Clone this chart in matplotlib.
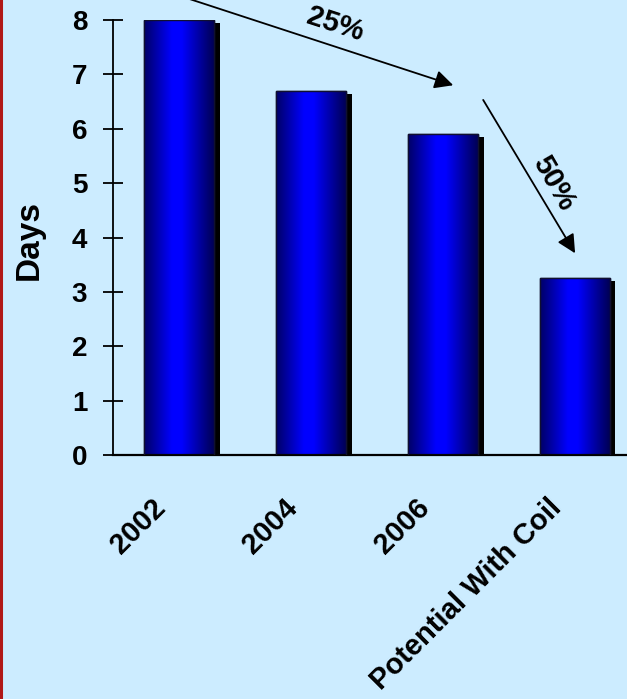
import numpy as np
import matplotlib
matplotlib.use("Agg")
import matplotlib.pyplot as plt
import matplotlib.patheffects as pe
from matplotlib.colors import LinearSegmentedColormap
from matplotlib.transforms import ScaledTranslation
from matplotlib.lines import Line2D

categories = ["2002", "2004", "2006", "Potential With Coil"]
days = [8.0, 6.7, 5.9, 3.25]
yticks = [0, 1, 2, 3, 4, 5, 6, 7, 8]
ylabel = "Days"
arrow_labels = ["25%", "50%"]

BG = "#CCECFF"
plt.rcParams["font.family"] = ["Liberation Sans", "DejaVu Sans"]
plt.rcParams["font.weight"] = "bold"

fig = plt.figure(figsize=(6.27, 6.99), dpi=100, facecolor=BG)
ax = fig.add_axes([113/627, 1 - 455/699, 527.5/627, 435/699])
ax.set_facecolor(BG)

x = np.arange(len(categories))
bars = ax.bar(x, days, width=0.53, color="#0000CC", edgecolor="#101030",
              linewidth=1.0, zorder=2,
              path_effects=[pe.SimplePatchShadow(offset=(4.3, -2.2), shadow_rgbFace="black",
                                                 alpha=1.0), pe.Normal()])

cmap = LinearSegmentedColormap.from_list(
    "bargrad", [(0.0, (0.0, 0.0, 0.40)), (0.40, (0.0, 0.0, 1.0)),
                (0.54, (0.0, 0.0, 1.0)), (1.0, (0.0, 0.0, 0.33))])
grad = np.linspace(0, 1, 256).reshape(1, -1)
for b in bars:
    x0, w, h = b.get_x(), b.get_width(), b.get_height()
    im = ax.imshow(grad, cmap=cmap, aspect="auto", extent=[x0, x0 + w, 0, h],
                   zorder=2.5, interpolation="bilinear")
    im.set_clip_path(b)
    ax.add_patch(plt.Rectangle((x0, 0), w, h, fill=False, edgecolor="#101030",
                               linewidth=1.0, zorder=2.6))

ax.set_xlim(-0.5, 3.5)
ax.set_ylim(0, 8)
ax.set_yticks(yticks)
ax.set_yticklabels([str(t) for t in yticks], fontsize=20, fontweight="bold")
ax.tick_params(axis="y", direction="inout", length=15, width=1.3, pad=11)
ax.set_xticks(x)
ax.set_xticklabels(categories, rotation=45, ha="right", va="top", fontsize=21,
                   fontweight="bold")
ax.tick_params(axis="x", length=0, pad=28)
shift = ScaledTranslation(-8/100, 0, fig.dpi_scale_trans)
for lab in ax.get_xticklabels():
    lab.set_transform(lab.get_transform() + shift)

for s in ["top", "right"]:
    ax.spines[s].set_visible(False)
ax.spines["left"].set_linewidth(1.3)
ax.spines["bottom"].set_linewidth(1.6)

fig.text(29/627, 1 - 240/699, ylabel, rotation=90, ha="center", va="center",
         fontsize=24, fontweight="bold")

arrowprops = dict(arrowstyle="-|>", color="black", lw=1.3, mutation_scale=28,
                  shrinkA=0, shrinkB=0)
ax.annotate("", xy=(2.08, 6.80), xytext=(0.05, 8.41), arrowprops=arrowprops,
            annotation_clip=False)
ax.annotate("", xy=(3.004, 3.71), xytext=(2.307, 6.53), arrowprops=arrowprops,
            annotation_clip=False)
ax.text(1.186, 7.92, arrow_labels[0], rotation=-18, ha="center", va="center",
        fontsize=21, fontweight="bold", clip_on=False)
ax.text(2.84, 5.0, arrow_labels[1], rotation=-60, ha="center", va="center",
        fontsize=21, fontweight="bold", clip_on=False)

fig.add_artist(Line2D([1/627, 1/627], [0, 1], transform=fig.transFigure,
                      color="#B01818", lw=2.2))

fig.savefig("out.png", dpi=100, facecolor=BG)
